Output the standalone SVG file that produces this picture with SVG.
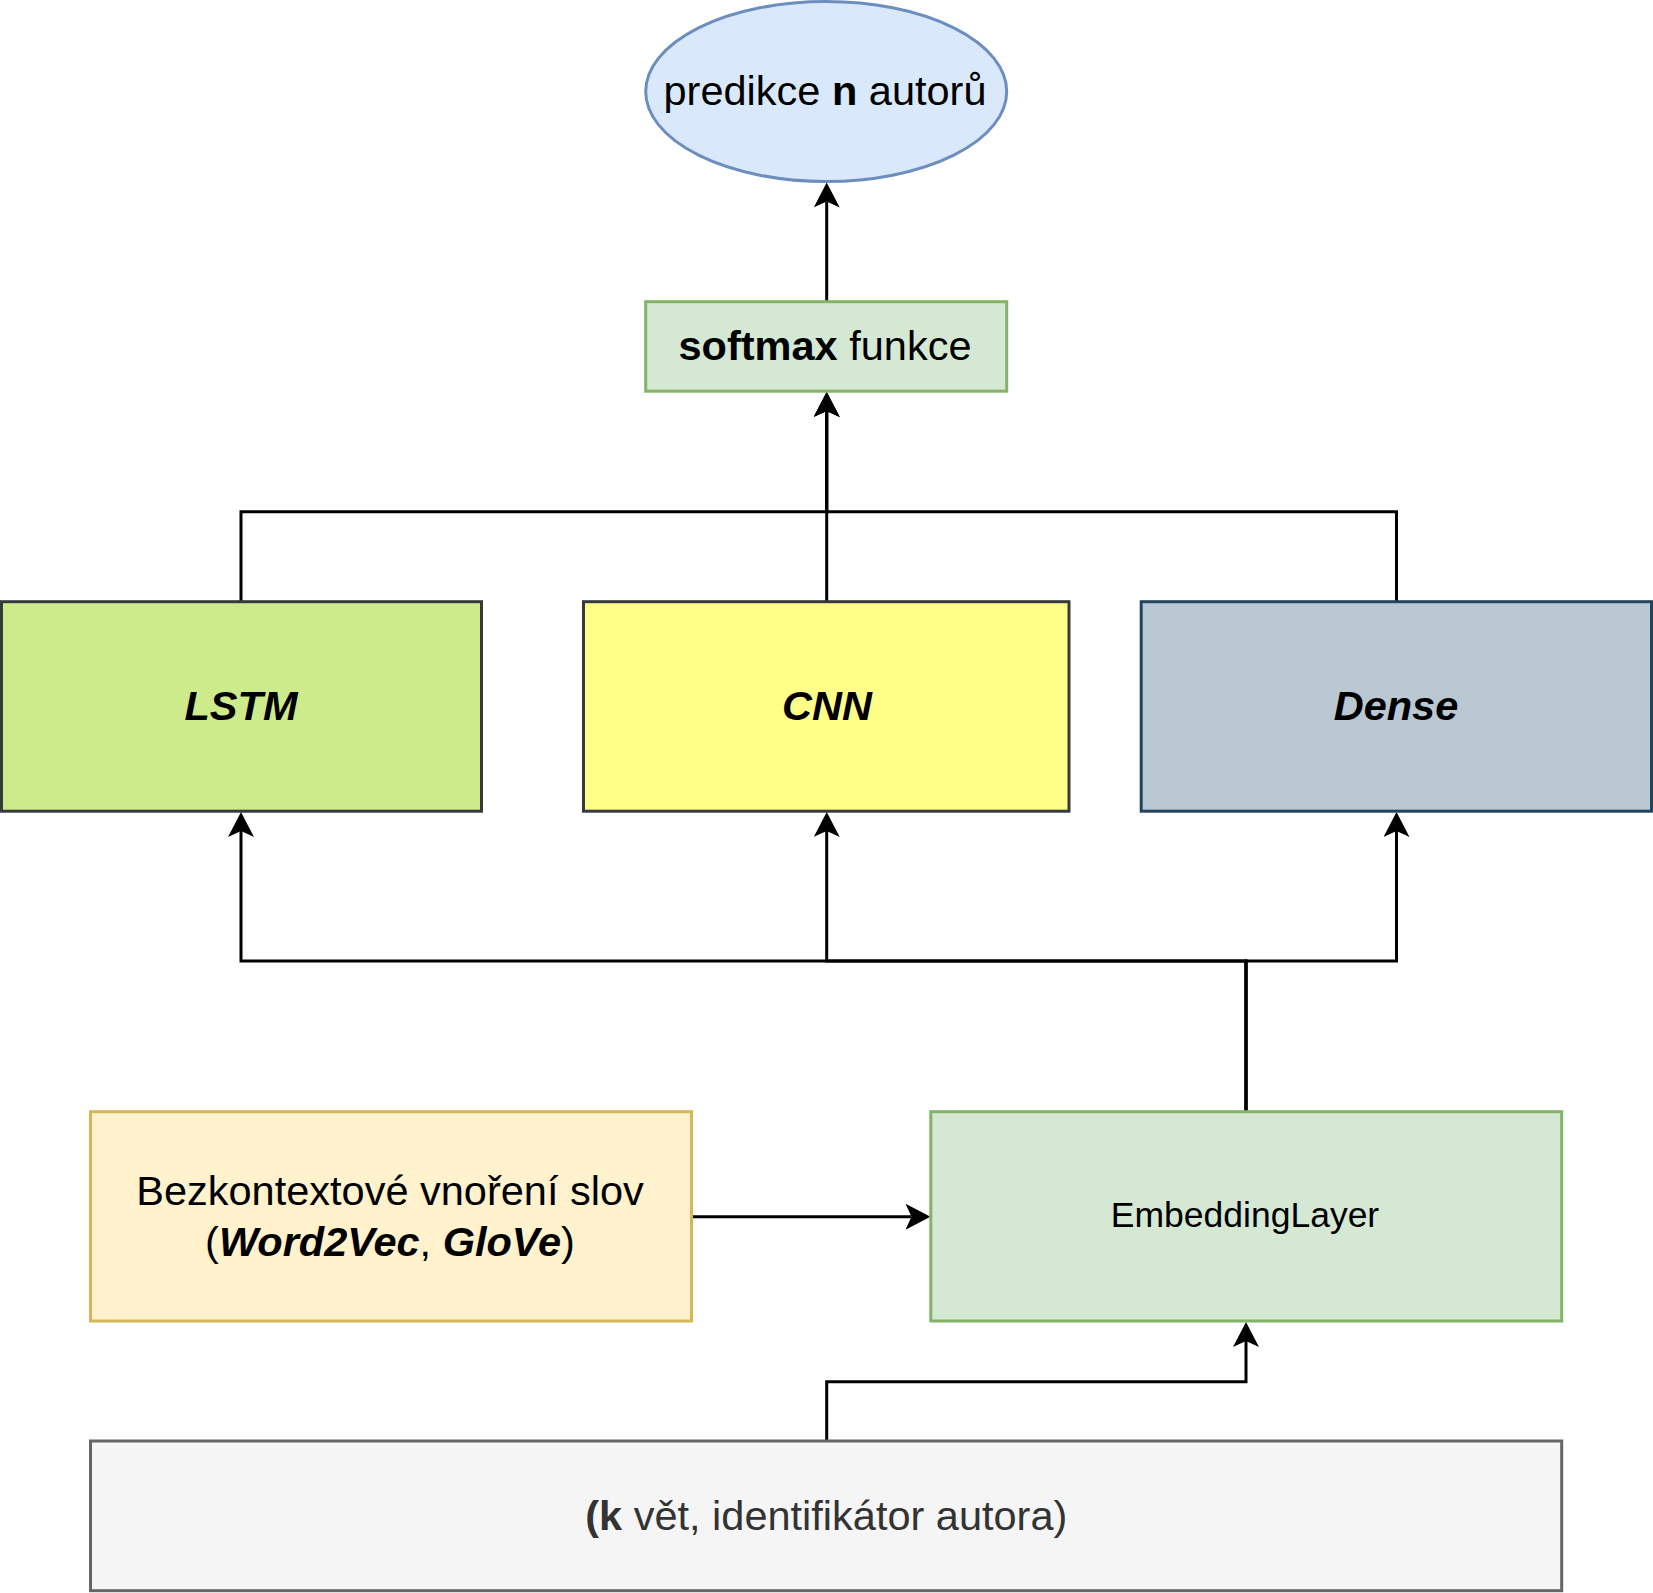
<svg xmlns="http://www.w3.org/2000/svg" width="1653" height="1593" viewBox="0 0 1653 1593">
<style>
text{font-family:"Liberation Sans",Arial,Helvetica,sans-serif;font-size:41.5px;fill:#000;text-anchor:middle}
.b{font-weight:bold}
.bi{font-weight:bold;font-style:italic}
.box{stroke-width:3}
.conn{fill:none;stroke:#000;stroke-width:3}
</style>
<defs>
<marker id="arr" viewBox="0 0 25 26" markerWidth="25" markerHeight="26" refX="6" refY="13" orient="auto" markerUnits="userSpaceOnUse">
<path d="M0,0 L25,13 L0,26 L6,13 Z" fill="#000"/>
</marker>
</defs>
<rect width="1653" height="1593" fill="#fff"/>
<g id="connectors">
<path class="conn" d="M826.7,301.7 L826.7,201.5" marker-end="url(#arr)"/>
<path class="conn" d="M241,601.7 L241,511.7 L826.7,511.7 L826.7,411" marker-end="url(#arr)"/>
<path class="conn" d="M826.7,601.7 L826.7,411" marker-end="url(#arr)"/>
<path class="conn" d="M1396.5,601.7 L1396.5,511.7 L826.7,511.7 L826.7,411" marker-end="url(#arr)"/>
<path class="conn" d="M1246,1111.7 L1246,961 L241,961 L241,831" marker-end="url(#arr)"/>
<path class="conn" d="M1246,1111.7 L1246,961 L826.7,961 L826.7,831" marker-end="url(#arr)"/>
<path class="conn" d="M1246,1111.7 L1246,961 L1396.5,961 L1396.5,831" marker-end="url(#arr)"/>
<path class="conn" d="M691.5,1216.7 L911.5,1216.7" marker-end="url(#arr)"/>
<path class="conn" d="M826.7,1441 L826.7,1381.7 L1246,1381.7 L1246,1341" marker-end="url(#arr)"/>
</g>
<g id="predikce">
<ellipse class="box" cx="826.2" cy="91.5" rx="180.5" ry="90" fill="#dae8fc" stroke="#6c8ebf"/>
<text x="825" y="105">predikce <tspan class="b">n</tspan> autorů</text>
</g>
<g id="softmax">
<rect class="box" x="645.7" y="301.7" width="361" height="89.5" fill="#d5e8d4" stroke="#82b366"/>
<text x="825" y="360"><tspan class="b">softmax</tspan> funkce</text>
</g>
<g id="lstm">
<rect class="box" x="1.5" y="601.7" width="480" height="209.5" fill="#cdeb8b" stroke="#36393d"/>
<text class="bi" x="241" y="720">LSTM</text>
</g>
<g id="cnn">
<rect class="box" x="583.5" y="601.7" width="485.5" height="209.5" fill="#ffff88" stroke="#36393d"/>
<text class="bi" x="827" y="720">CNN</text>
</g>
<g id="dense">
<rect class="box" x="1141.2" y="601.7" width="510.3" height="209.5" fill="#bac8d3" stroke="#23445d"/>
<text class="bi" x="1396" y="720">Dense</text>
</g>
<g id="bezkontextove">
<rect class="box" x="90.5" y="1111.7" width="601" height="209.3" fill="#fff2cc" stroke="#d6b656"/>
<text x="390" y="1205">Bezkontextové vnoření slov</text>
<text x="390" y="1256">(<tspan class="bi">Word2Vec</tspan>, <tspan class="bi">GloVe</tspan>)</text>
</g>
<g id="embedding">
<rect class="box" x="930.8" y="1111.7" width="630.9" height="209.3" fill="#d5e8d4" stroke="#82b366"/>
<text x="1245" y="1227" style="font-size:35.5px">EmbeddingLayer</text>
</g>
<g id="input">
<rect class="box" x="90.5" y="1441" width="1471.2" height="149.7" fill="#f5f5f5" stroke="#666666"/>
<text x="826.3" y="1530" style="fill:#333333"><tspan class="b" style="fill:#333333">(k</tspan> vět, identifikátor autora)</text>
</g>
</svg>
